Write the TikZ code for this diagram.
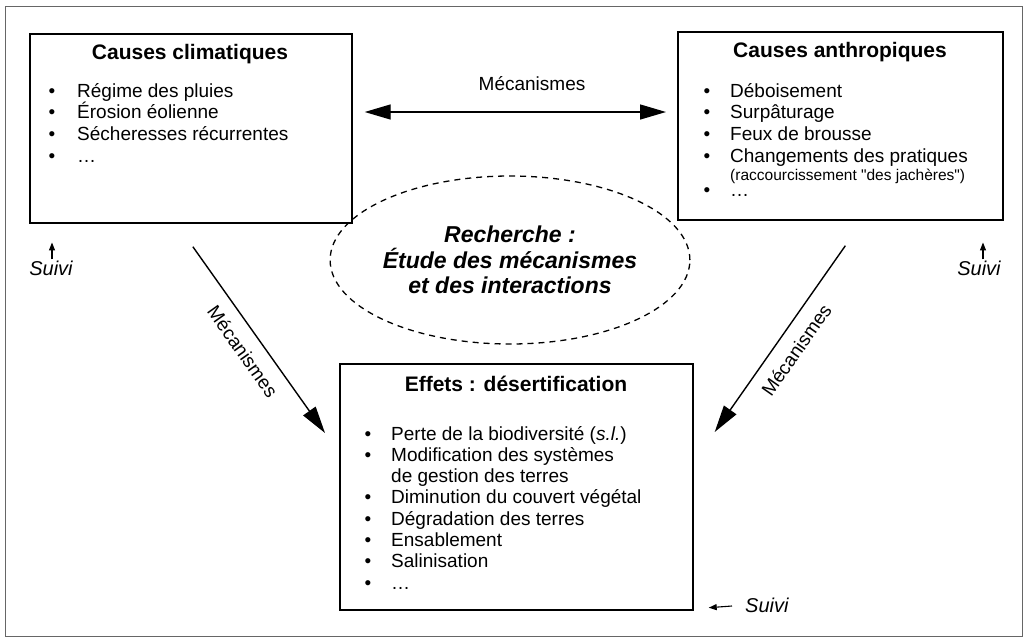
\documentclass[tikz,border=0pt]{standalone}
\usepackage{fontspec}
\setmainfont{Liberation Sans}
\newfontfamily\rawsans{Liberation Sans}
\usetikzlibrary{arrows.meta,shapes.geometric,calc}
\begin{document}
\begin{tikzpicture}[x=1pt,y=-1pt,
  frame/.style={draw=black!60, line width=1pt},
  boxst/.style={draw, line width=1.7pt, inner sep=0pt, anchor=north west},
  ttl/.style={font=\fontsize{21}{24}\selectfont\bfseries, anchor=base, inner sep=0pt},
  itm/.style={font=\fontsize{19}{21}\selectfont, anchor=base west, inner sep=0pt},
  sml/.style={font=\rawsans\fontsize{15.5}{18}\selectfont, anchor=base west, inner sep=0pt},
  bul/.style={font=\fontsize{19}{21}\selectfont, anchor=base, inner sep=0pt},
  lbl/.style={font=\fontsize{19}{21}\selectfont, inner sep=0pt},
  suivi/.style={font=\fontsize{20}{22}\selectfont\itshape, inner sep=0pt},
  bigarr/.style={line width=1.4pt, -{Triangle[length=27pt,width=15pt]}},
  dblarr/.style={line width=1.4pt, {Triangle[length=26pt,width=15pt]}-{Triangle[length=26pt,width=15pt]}},
  smallarr/.style={line width=1.1pt, -{Triangle[length=8pt,width=6pt]}},
  rech/.style={draw, ellipse, line width=1.3pt, dash pattern=on 6pt off 5pt,
    inner sep=0pt, minimum width=314pt, minimum height=168pt, align=center,
    font=\fontsize{23}{25.5}\selectfont\bfseries\itshape}
]
\useasboundingbox (0,0) rectangle (1027,638);
\draw[frame] (5,6) rectangle (1022,636);

% boxes
\node[boxst, minimum width=322pt, minimum height=189pt] (cc) at (29,33) {};
\node[boxst, minimum width=325pt, minimum height=188pt] (ca) at (677,31) {};
\node[boxst, minimum width=353pt, minimum height=246pt] (ef) at (339,363) {};

% titles
\node[ttl] (cct) at (190,59.5) {Causes climatiques};
\node[ttl] (cat) at (840,57.5) {Causes anthropiques};
\node[ttl] (eft) at (516,391.5) {Effets : désertification};

% box 1 items
\foreach \t [count=\i] in {Régime des pluies, Érosion éolienne, Sécheresses récurrentes, …}{
  \node[bul] (cb\i) at (52,{97+21.7*(\i-1)}) {•};
  \node[itm] (ci\i) at (77,{97+21.7*(\i-1)}) {\t};
}

% box 2 items
\foreach \t [count=\i] in {Déboisement, Surpâturage, Feux de brousse, Changements des pratiques}{
  \node[bul] (ab\i) at (707,{97+21.7*(\i-1)}) {•};
  \node[itm] (ai\i) at (730,{97+21.7*(\i-1)}) {\t};
}
\node[sml] (araco) at (730,180) {(raccourcissement "des jachères")};
\node[bul] (ab5) at (707,196) {•};
\node[itm] (ai5) at (730,196) {…};

% box 3 items
\node[bul] (eb1) at (368,440) {•};
\node[itm] (ei1) at (391,440) {Perte de la biodiversité (\textit{s.l.})};
\node[bul] (eb2) at (368,461.3) {•};
\node[itm] (ei2) at (391,461.3) {Modification des systèmes};
\node[itm] (ei2b) at (391,482.6) {de gestion des terres};
\foreach \t [count=\i from 3] in {Diminution du couvert végétal, Dégradation des terres, Ensablement, Salinisation, …}{
  \node[bul] (eb\i) at (368,{503.9+21.3*(\i-3)}) {•};
  \node[itm] (ei\i) at (391,{503.9+21.3*(\i-3)}) {\t};
}

% research ellipse
\node[rech] (re) at (510,260) {Recherche :\\Étude des mécanismes\\et des interactions};

% top double arrow
\node[lbl] (mtop) at (532,84) {Mécanismes};
\coordinate (ta) at ($(cc.north east)+(12,79)$);
\coordinate (tb) at ($(ca.north west)+(-11,81)$);
\draw[dblarr] (ta) -- (tb);

% diagonal arrows
\coordinate (la) at ($(cc.south)+(2,23)$);
\coordinate (lb) at ($(ef.north west)+(-14,70)$);
\draw[bigarr] (la) -- node[lbl, sloped, below=12pt, pos=0.5] (mleft) {Mécanismes} (lb);
\coordinate (ra) at ($(ca.south)+(5,25)$);
\coordinate (rb) at ($(ef.north east)+(21,69)$);
\draw[bigarr] (ra) -- node[lbl, sloped, below=12pt, pos=0.5] (mright) {Mécanismes} (rb);

% Suivi
\node[suivi] (s1) at (51,268) {Suivi};
\draw[smallarr] (s1.north) ++(1,-1) coordinate (s1a) -- ($(s1a)+(0,-17)$);
\node[suivi] (s2) at (979,268) {Suivi};
\draw[smallarr] (s2.north) ++(4,-1) coordinate (s2a) -- ($(s2a)+(0,-17)$);
\node[suivi, anchor=west] (s3) at (745,605) {Suivi};
\coordinate (s3a) at ($(s3.west)+(-13,1)$);
\draw[smallarr] (s3a) -- ($(ef.south east)+(15,-3)$);
\end{tikzpicture}
\end{document}
